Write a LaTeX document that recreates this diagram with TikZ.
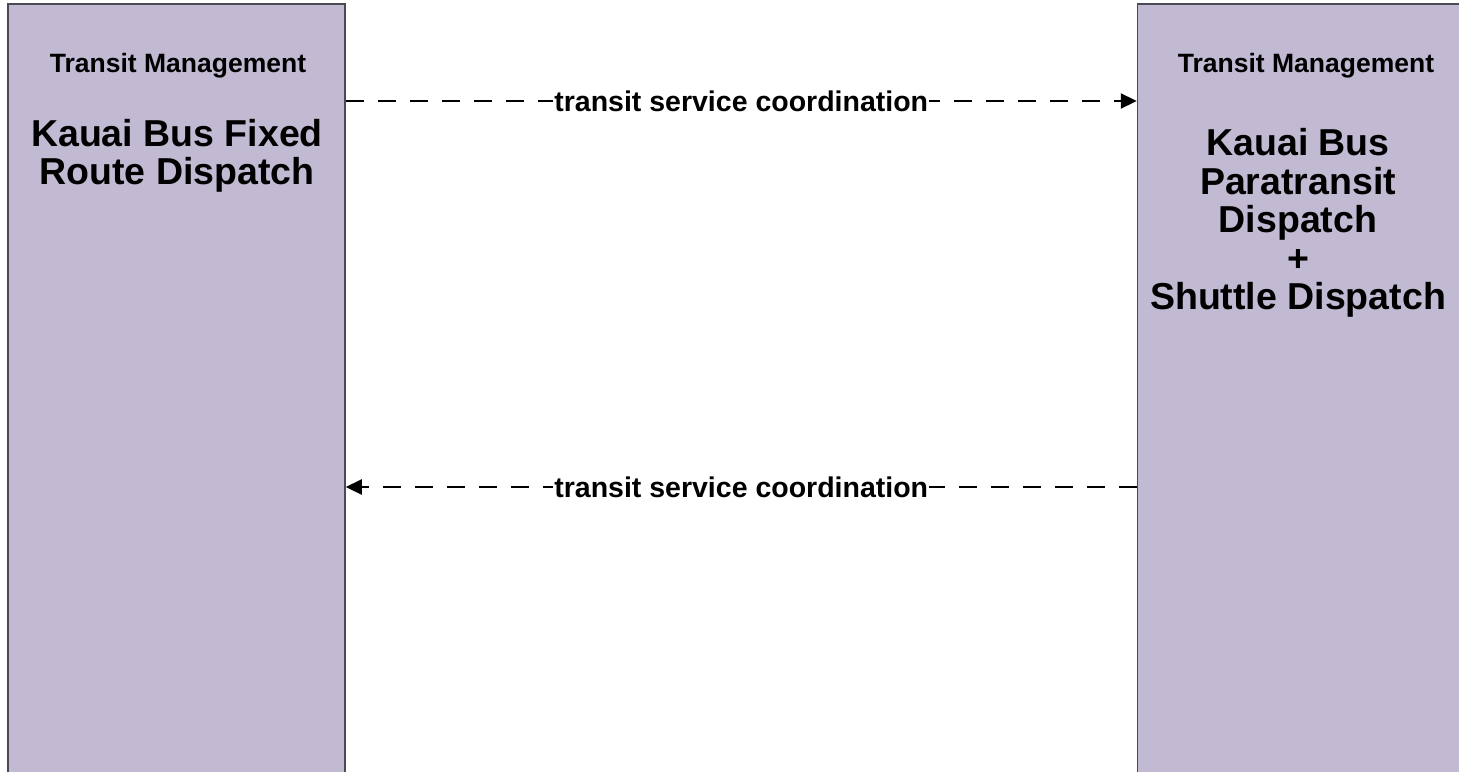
\documentclass[tikz,border=0pt]{standalone}
\usepackage{fontspec}
\setmainfont{Liberation Sans}
\usetikzlibrary{positioning,arrows.meta}
\definecolor{boxfill}{HTML}{C2B9D2}
\definecolor{boxline}{HTML}{4A4A55}

\begin{document}
\begin{tikzpicture}[x=1pt,y=-1pt,
                       sys node/.style={draw=boxline,fill=boxfill,line width=1.5pt,
                                        minimum width=337pt,minimum height=800pt,inner sep=0pt},
                       cat node/.style={font=\fontsize{26.5}{30}\selectfont\bfseries,inner sep=0pt},
                       name node/.style={font=\fontsize{37.5}{38.5}\selectfont\bfseries,
                                         align=center,inner sep=0pt},
                       flow/.style={line width=2.2pt,dash pattern=on 18pt off 14pt,
                                    -{Triangle[length=16pt,width=15pt]}},
                       flow label/.style={fill=white,font=\fontsize{28.5}{30}\selectfont\bfseries,
                                          inner xsep=1pt,inner ysep=1pt}
                           ]
   \clip (0,0) rectangle (1459,771);
   \node[sys node] (fixed) at (176.5,404) {};
   \node[sys node] (para) at (1306,404) {};
   \node[cat node] (fixedcat) at (178,66) {Transit Management};
   \node[cat node] (paracat) at (1306,66) {Transit Management};
   \node[name node] (fixedname) at (177,156) {Kauai Bus Fixed\\Route Dispatch};
   \node[name node] (paraname) at (1298,223) {Kauai Bus\\Paratransit\\Dispatch\\+\\Shuttle Dispatch};
   \coordinate (upper) at (0,101);
   \coordinate (lower) at (0,487);
      \path%
    (fixed.east |- upper) edge [flow] node [flow label] {transit service coordination} (para.west |- upper)
    (para.west |- lower) edge [flow] node [flow label] {transit service coordination} (fixed.east |- lower);
      \end{tikzpicture}
\end{document}
